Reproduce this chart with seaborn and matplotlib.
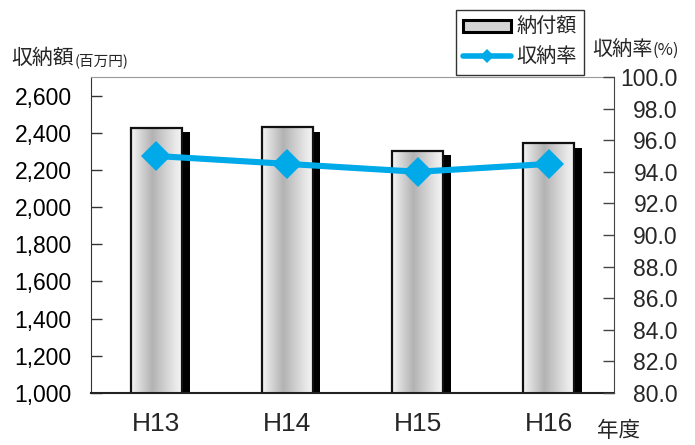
import numpy as np
import pandas as pd
import matplotlib
matplotlib.use("Agg")
import matplotlib.pyplot as plt
import seaborn as sns
from matplotlib import font_manager
from matplotlib.patches import Patch, Rectangle
from matplotlib.lines import Line2D
from matplotlib.transforms import ScaledTranslation
from matplotlib.ticker import FuncFormatter

years = ["H13", "H14", "H15", "H16"]
amounts = [2424, 2429, 2304, 2343]          # 納付額 (百万円)
rates = [95.0, 94.5, 94.0, 94.5]            # 収納率 (%)
left_ticks = [1000, 1200, 1400, 1600, 1800, 2000, 2200, 2400, 2600]
right_ticks = [80, 82, 84, 86, 88, 90, 92, 94, 96, 98, 100]

sns.set_style("white")
plt.rcParams["font.family"] = ["Liberation Sans", "Noto Sans CJK JP", "DejaVu Sans"]

names = {f.name for f in font_manager.fontManager.ttflist}
narrow = "Liberation Sans Narrow" if "Liberation Sans Narrow" in names else "Liberation Sans"
JP = ["Noto Sans CJK JP", "DejaVu Sans"]

W, H = 695, 445
fig = plt.figure(figsize=(W / 100, H / 100), dpi=100)
ax = fig.add_axes([91 / W, 1 - 393 / H, (614 - 91) / W, (393 - 77) / H])

df = pd.DataFrame({"year": years, "amount": amounts, "rate": rates})

sns.barplot(data=df, x="year", y="amount", ax=ax, width=0.39,
            color="#cccccc", edgecolor="#111111", linewidth=1.6, zorder=2)

YMIN, YMAX = 1000, 2700
ax.set_ylim(YMIN, YMAX)
ax.set_xlim(-0.5, len(years) - 0.5)

# gradient fill + drop shadow for each bar
grad_pos = np.linspace(0, 1, 256)
grad_val = np.interp(grad_pos, [0, 0.12, 0.42, 0.85, 1.0], [0.96, 0.88, 0.70, 0.90, 0.96])
grad = np.tile(grad_val, (2, 1))
offset = ScaledTranslation(5.5 / 72, -3 / 72, fig.dpi_scale_trans)
for p in list(ax.patches):
    x0, y0 = p.get_x(), p.get_y()
    w, h = p.get_width(), p.get_height()
    sh = Rectangle((x0, y0), w, h, transform=ax.transData + offset,
                   facecolor="black", edgecolor="none", zorder=1.5)
    ax.add_patch(sh)
    sh.set_clip_path(ax.patch)
    im = ax.imshow(grad, cmap="gray", vmin=0, vmax=1, aspect="auto",
                   extent=[x0, x0 + w, YMIN, y0 + h], zorder=2.1,
                   interpolation="bilinear")
    im.set_clip_path(ax.patch)
    p.set_facecolor("none")
    p.set_zorder(2.2)
ax.set_xlim(-0.5, len(years) - 0.5)
ax.set_ylim(YMIN, YMAX)

ax2 = ax.twinx()
sns.pointplot(data=df, x="year", y="rate", ax=ax2, color="#00A9E8",
              markers="D", linestyles="-", markersize=15, linewidth=4.4,
              markeredgewidth=0)
ax2.set_ylim(80, 100)
ax2.set_xlim(-0.5, len(years) - 0.5)

# axes styling
ax.set_yticks(left_ticks)
ax.yaxis.set_major_formatter(FuncFormatter(lambda v, _: f"{int(v):,}"))
ax.tick_params(axis="y", direction="in", length=8, width=1, pad=14,
               labelsize=16.5, colors="#000000")
ax.set_xticks(range(len(years)))
ax.set_xticklabels(years, fontfamily=narrow)
ax.set_xticks([0.5, 1.5, 2.5], minor=True)
ax.tick_params(axis="x", which="major", length=0, pad=14, labelsize=19)
ax.tick_params(axis="x", which="minor", direction="in", length=8, width=1, color="#333333")
ax.set_xlabel("")
ax.set_ylabel("")

ax2.set_yticks(right_ticks)
ax2.yaxis.set_major_formatter(FuncFormatter(lambda v, _: f"{v:.1f}"))
ax2.tick_params(axis="y", direction="in", length=8, width=1, pad=46, labelsize=16.5)
for lbl in ax2.get_yticklabels():
    lbl.set_horizontalalignment("right")
ax2.set_xlabel("")
ax2.set_ylabel("")

for a in (ax, ax2):
    for s in a.spines.values():
        s.set_visible(False)
ax.spines["left"].set_visible(True)
ax.spines["left"].set_color("#333333")
ax.spines["bottom"].set_visible(True)
ax.spines["bottom"].set_color("#222222")
ax.spines["bottom"].set_linewidth(1.5)
ax2.spines["right"].set_visible(True)
ax2.spines["right"].set_color("#444444")
ax.spines["top"].set_visible(True)
ax.spines["top"].set_color("#999999")
ax.tick_params(axis="y", color="#333333")
ax2.tick_params(axis="y", color="#444444")

# axis titles
def ft(x, y, s, size, **kw):
    fig.text(x / W, 1 - y / H, s, fontsize=size, family=JP, va="center", **kw)

ft(11, 58, "収納額", 15)
ft(75, 61, "(百万円)", 10.5)
ft(592, 50, "収納率", 14.5)
ft(653, 50, "(%)", 12)
ft(597, 431, "年度", 15.5)

# legend
handles = [
    Patch(facecolor="#d4d4d4", edgecolor="black", linewidth=2.2),
    Line2D([0], [0], color="#00A9E8", linewidth=4, marker="D", markersize=7,
           markeredgewidth=0),
]
leg = fig.legend(handles, ["納付額", "収納率"], loc="upper left",
                 bbox_to_anchor=(456 / W, 1 - 10 / H), frameon=True,
                 prop={"family": JP, "size": 14.5}, handlelength=2.4,
                 handleheight=0.6, handletextpad=0.25, borderpad=0.35,
                 labelspacing=0.45, borderaxespad=0, fancybox=False)
leg.get_frame().set_edgecolor("black")
leg.get_frame().set_linewidth(1.0)

fig.savefig("out.png", dpi=100)
